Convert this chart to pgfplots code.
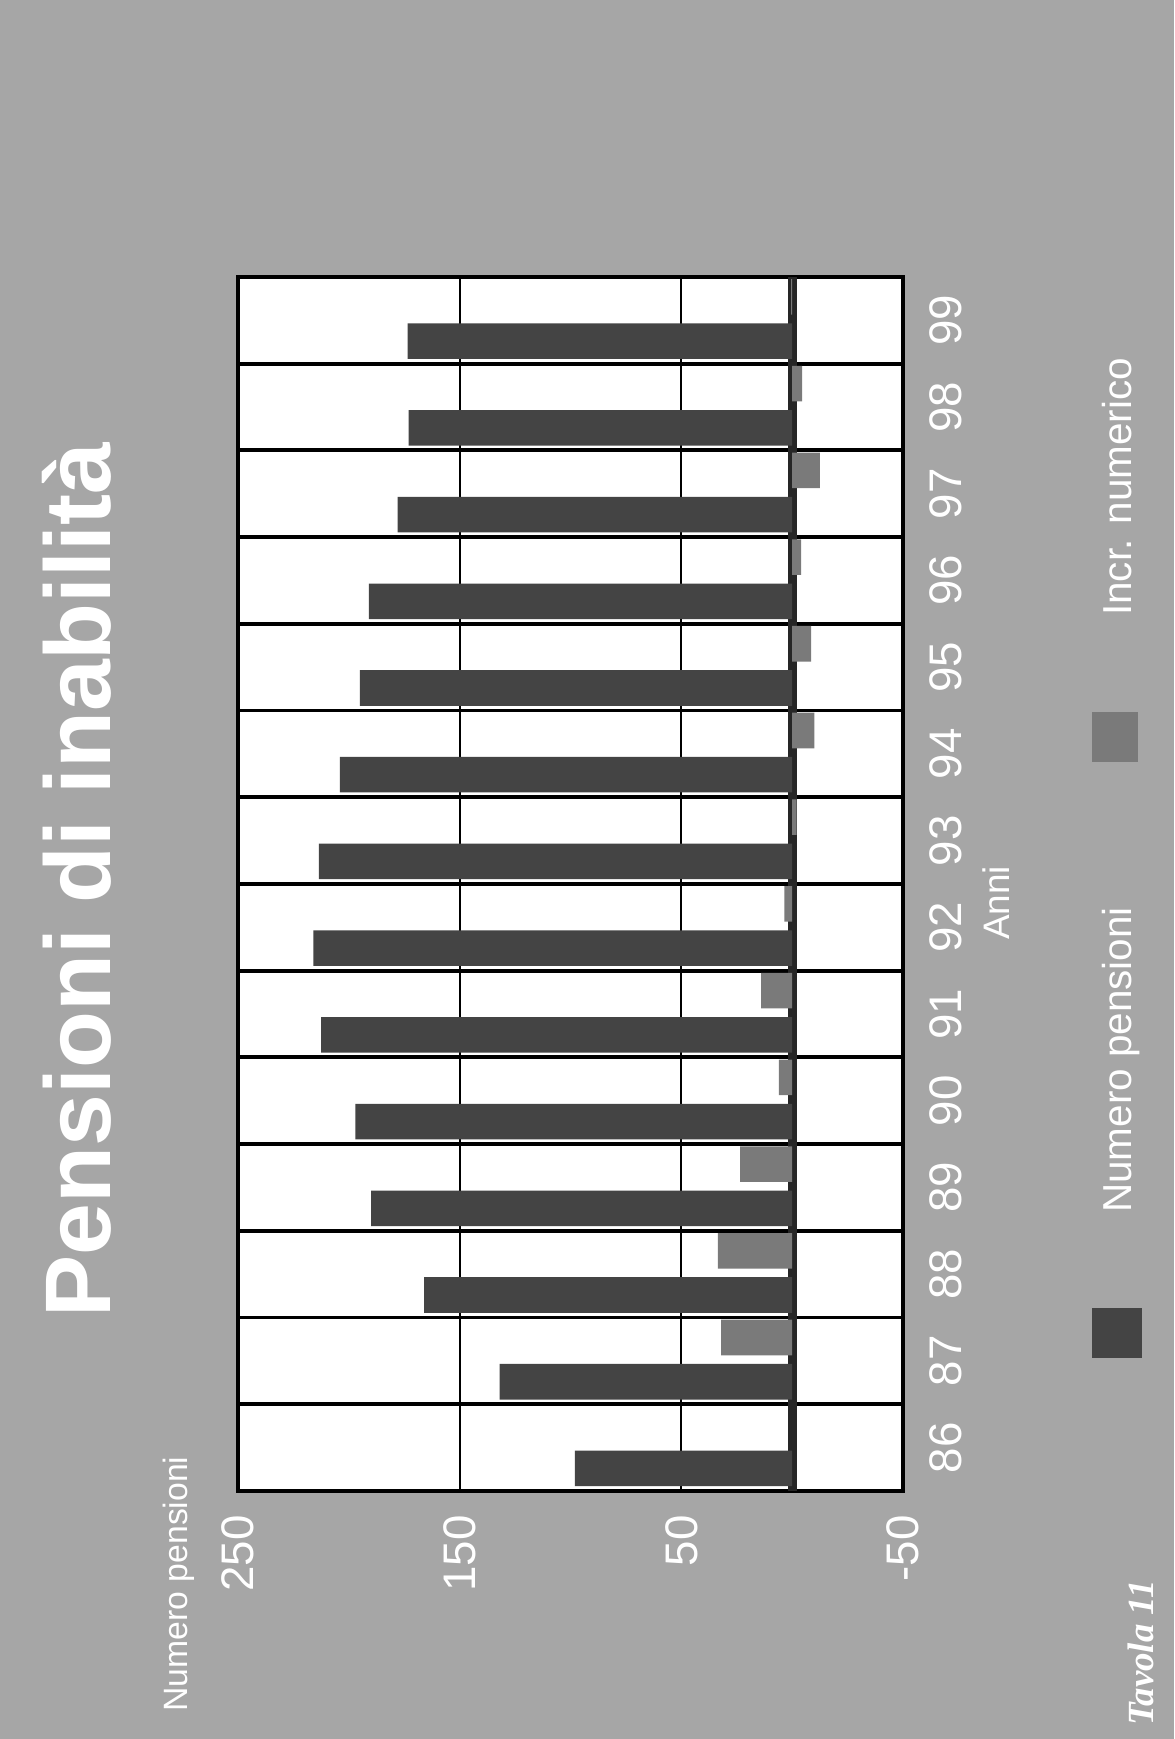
\documentclass[border=0pt]{standalone}
\usepackage{fontspec}
\setmainfont{Liberation Sans}
\newfontfamily\tavfont{Liberation Serif}
\usepackage{pgfplots}
\pgfplotsset{compat=1.18}

\definecolor{bgGray}{HTML}{A6A6A6}
\definecolor{barDark}{HTML}{444444}
\definecolor{barLight}{HTML}{7A7A7A}

\begin{document}
\begin{tikzpicture}[x=1cm,y=1cm]
% page background
\fill[bgGray] (0,0) rectangle (11.74,17.39);
\useasboundingbox (0,0) rectangle (11.74,17.39);

\begin{axis}[
  at={(5.705cm,8.55cm)}, anchor=center,
  width=6.65cm, height=12.14cm, scale only axis,
  xmin=-50, xmax=250, x dir=reverse,
  ymin=-0.5, ymax=13.5,
  xtick={-50,50,150,250},
  xticklabels={-50,50,150,250},
  ytick={0,1,2,3,4,5,6,7,8,9,10,11,12,13},
  yticklabels={86,87,88,89,90,91,92,93,94,95,96,97,98,99},
  yticklabel pos=right,
  minor ytick={0.5,1.5,2.5,3.5,4.5,5.5,6.5,7.5,8.5,9.5,10.5,11.5,12.5},
  major tick length=0pt, minor tick length=0pt,
  xmajorgrids, yminorgrids,
  major grid style={black, line width=0.55pt},
  minor grid style={black, line width=1.1pt},
  axis line style={black, line width=1pt},
  axis background/.style={fill=white},
  extra x ticks={0}, extra x tick labels={},
  extra x tick style={grid=major, major grid style={black!85, line width=2.5pt}},
  xbar, bar width=0.41,
  tick label style={font=\fontsize{13}{13}\selectfont, text=white},
  xticklabel style={rotate=90, anchor=east},
  yticklabel style={rotate=90, anchor=north},
  xticklabel shift=3.4pt, yticklabel shift=4pt,
]
% Numero pensioni (migliaia)
\addplot[fill=barDark, draw=none, bar shift=-0.24] coordinates {
  (98,0) (132,1) (166,2) (190,3) (197,4) (212.5,5) (216,6)
  (213.5,7) (204,8) (195,9) (191,10) (178,11) (173,12) (173.5,13)
};
% Incremento numerico rispetto all'anno precedente
\addplot[fill=barLight, draw=none, bar shift=0.27] coordinates {
  (32,1) (33.5,2) (23.5,3) (6,4) (14,5) (3.5,6)
  (-2,7) (-10,8) (-8.5,9) (-4,10) (-12.5,11) (-4.5,12) (0.5,13)
};
\end{axis}

% title and labels
\node[rotate=90, anchor=base, text=white, font=\bfseries\fontsize{26.5}{26.5}\selectfont]
  at (1.10,8.59) {Pensioni di inabilità};
\node[rotate=90, anchor=base, text=white, font=\fontsize{9.6}{9.6}\selectfont]
  at (1.87,1.55) {Numero pensioni};
\node[rotate=90, anchor=base, text=white, font=\fontsize{10.5}{10.5}\selectfont]
  at (10.09,8.36) {Anni};

% legend
\fill[barDark] (10.92,3.81) rectangle (11.42,4.31);
\node[rotate=90, anchor=base, text=white, font=\fontsize{11.5}{11.5}\selectfont]
  at (11.31,6.79) {Numero pensioni};
\fill[barLight] (10.92,9.77) rectangle (11.38,10.27);
\node[rotate=90, anchor=base, text=white, font=\fontsize{11.5}{11.5}\selectfont]
  at (11.31,12.52) {Incr. numerico};

\node[rotate=90, anchor=base, text=white, font=\tavfont\bfseries\itshape\fontsize{10.5}{10.5}\selectfont]
  at (11.53,0.86) {Tavola 11};
\end{tikzpicture}
\end{document}
